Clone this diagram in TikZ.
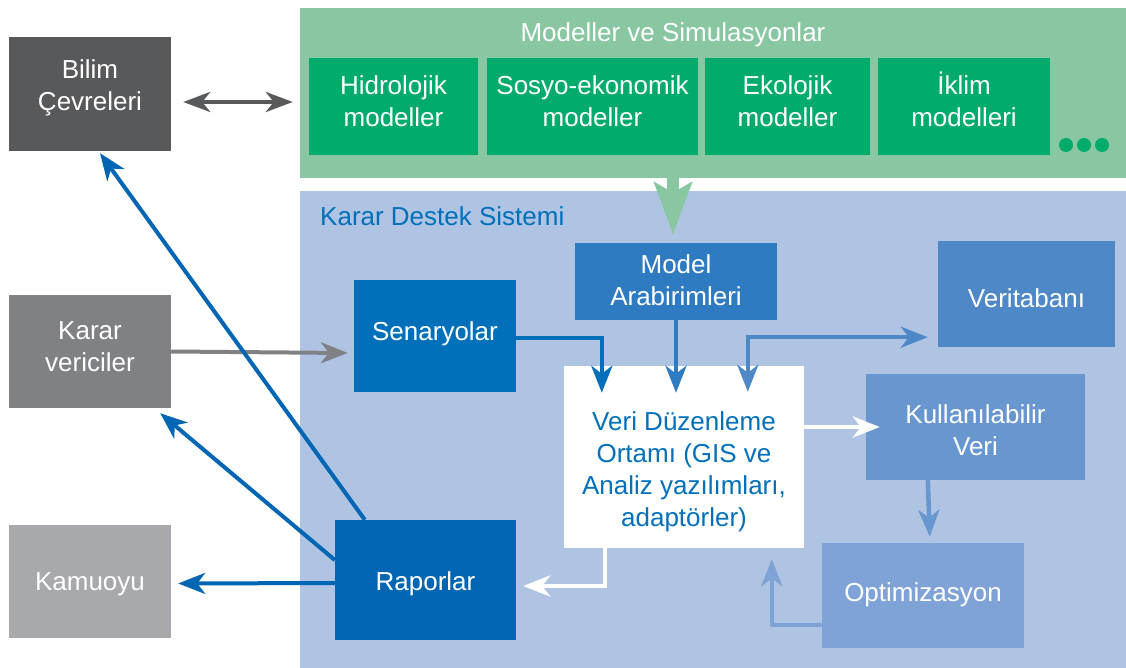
\documentclass[tikz,border=0pt]{standalone}
\usepackage{fontspec}
\setmainfont{Liberation Sans}
\usetikzlibrary{arrows.meta}
\usetikzlibrary{calc}
\usetikzlibrary{positioning}

\definecolor{panelgreen}{HTML}{88C7A1}
\definecolor{modelgreen}{HTML}{00AB6C}
\definecolor{panelblue}{HTML}{AFC3E3}
\definecolor{kdsblue}{HTML}{0070BA}
\definecolor{raporblue}{HTML}{0066B3}
\definecolor{arayuzblue}{HTML}{2F7BC1}
\definecolor{dbblue}{HTML}{4E88C7}
\definecolor{veriblue}{HTML}{6896CF}
\definecolor{optblue}{HTML}{7FA3D6}
\definecolor{darkgray}{HTML}{58595B}
\definecolor{midgray}{HTML}{808184}
\definecolor{lightgray}{HTML}{A7A9AC}

\begin{document}
\begin{tikzpicture}[x=1pt,y=-1pt,
    every node/.style={font=\fontsize{26}{32}\selectfont, text=white, align=center, inner sep=0pt},
    box/.style={rectangle, minimum width=#1},
    txt/.style={text height=#1, text depth=0pt},
    pfeil/.style={line width=4.5pt, -{Stealth[length=27pt,width=21pt,inset=8pt]}},
    into/.style={shorten >=-#1}]
        \useasboundingbox (0,0) rectangle (1126,668);

        % panels
        \node[box=826pt, minimum height=170pt, fill=panelgreen] at (713,93) (modpanel) {};
        \node[txt=18pt] at (673,33) (modtitle) {Modeller ve Simulasyonlar};
        \node[box=826pt, minimum height=477pt, fill=panelblue] at (713,429.5) (kdspanel) {};
        \node[txt=18pt, anchor=west, text=kdsblue] at (320,217) (kdstitle) {Karar Destek Sistemi};

        % models
        \node[box=169pt, minimum height=97pt, txt=40pt, fill=modelgreen] at (393.5,106.5) (hidro) {Hidrolojik\\modeller};
        \node[box=211pt, minimum height=97pt, txt=40pt, fill=modelgreen] at (592.5,106.5) (sosyo) {Sosyo-ekonomik\\modeller};
        \node[box=165pt, minimum height=97pt, txt=40pt, fill=modelgreen] at (787.5,106.5) (ekolojik) {Ekolojik\\modeller};
        \node[box=172pt, minimum height=97pt, txt=40pt, fill=modelgreen] at (964,106.5) (iklim) {İklim\\modelleri};
        \foreach \x in {1066,1084,1102}
        \fill[modelgreen] (\x,145) circle (7pt);

        % actors
        \node[box=162pt, minimum height=114pt, txt=33pt, fill=darkgray] at (90,94) (bilim) {Bilim\\Çevreleri};
        \node[box=162pt, minimum height=113pt, txt=40pt, fill=midgray] at (90,351.5) (karar) {Karar\\vericiler};
        \node[box=162pt, minimum height=113pt, txt=17pt, fill=lightgray] at (90,581.5) (kamuoyu) {Kamuoyu};

        % decision support
        \node[box=202pt, minimum height=77pt, txt=47pt, fill=arayuzblue] at (676,281.5) (arayuz) {Model\\Arabirimleri};
        \node[box=177pt, minimum height=106pt, txt=27pt, fill=dbblue] at (1026.5,294) (veritabani) {Veritabanı};
        \node[box=162pt, minimum height=112pt, txt=8pt, fill=kdsblue] at (435,336) (senaryo) {Senaryolar};
        \node[box=240pt, minimum height=182pt, txt=138pt, fill=white, text=kdsblue] at (684,457) (duzen) {Veri Düzenleme\\Ortamı (GIS ve\\Analiz yazılımları,\\adaptörler)};
        \node[box=219pt, minimum height=106pt, txt=56pt, fill=veriblue] at (975.5,427) (kveri) {Kullanılabilir\\Veri};
        \node[box=202pt, minimum height=105pt, txt=11pt, fill=optblue] at (923,595.5) (optim) {Optimizasyon};
        \node[box=181pt, minimum height=120pt, txt=20pt, fill=raporblue] at (425.5,580) (rapor) {Raporlar};

        % connectors
        \draw[line width=12pt, panelgreen, -{Stealth[length=52pt,width=37pt,inset=10pt]}]
            ($(modpanel.south)+(-40,0)$) -- ($(arayuz.north)+(-3,-8)$);
        \draw[line width=4pt, darkgray, {Stealth[length=27pt,width=20pt,inset=8pt]}-{Stealth[length=27pt,width=20pt,inset=8pt]}]
            ($(bilim.east)+(12,8)$) -- ($(modpanel.west)+(-7,9)$);
        \draw[pfeil, midgray, line width=4pt] (karar.east) -- ($(senaryo.west)+(-6,17)$);

        \draw[pfeil, kdsblue, into=27pt] ($(senaryo.east)+(0,2)$) -| ($(duzen.north west)+(38,0)$);
        \draw[pfeil, arayuzblue, into=27pt] (arayuz.south) -- (arayuz.south |- duzen.north);
        \draw[pfeil, dbblue, {Stealth[length=27pt,width=21pt,inset=8pt]}-{Stealth[length=27pt,width=21pt,inset=8pt]}, shorten <=-26pt]
            ($(duzen.north west)+(184,0)$) |- ($(veritabani.south west)+(-10,-10)$);
        \draw[pfeil, white, into=14pt] (duzen.east |- kveri) -- (kveri.west);
        \draw[pfeil, veriblue] ($(kveri.south west)+(62,0)$) -- ($(optim.north west)+(108,-6)$);
        \draw[pfeil, optblue] ($(optim.south west)+(0,-23)$) -| ($(duzen.south west)+(208,11)$);
        \draw[pfeil, white] ($(duzen.south west)+(41,0)$) |- ($(rapor.east)+(7,6)$);

        \draw[pfeil, raporblue, line width=4pt] ($(rapor.north west)+(30,0)$) -- ($(bilim.south)+(10,2)$);
        \draw[pfeil, raporblue, line width=4pt] ($(rapor.west)+(0,-20)$) -- ($(karar.south east)+(-11,5)$);
        \draw[pfeil, raporblue, line width=4pt] ($(rapor.west)+(0,3)$) -- ($(kamuoyu.east)+(7,2)$);
\end{tikzpicture}
\end{document}
